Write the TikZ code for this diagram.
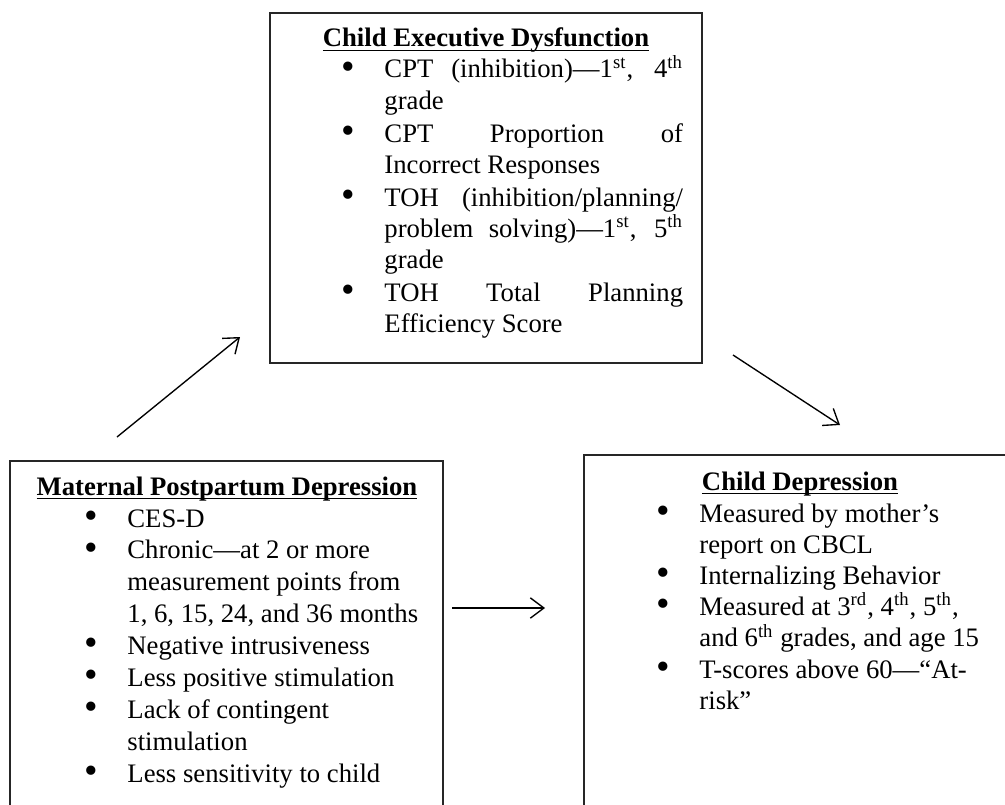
\documentclass[tikz,border=0pt]{standalone}
\usepackage{fontspec}
\setmainfont{Liberation Serif}
\usetikzlibrary{arrows.meta,fit}
\newcommand{\bl}{\makebox[19pt][l]{\raisebox{-0.5pt}{\scalebox{1.45}{\textbullet}}}}
\newcommand{\ind}{\hspace*{19pt}}
\newcommand{\sps}[1]{\textsuperscript{#1}}
\newcommand{\ulin}[1]{\underline{\smash{#1}}}
\begin{document}
\begin{tikzpicture}[x=0.442pt,y=-0.442pt,
  boxframe/.style={draw=black!85, line width=0.7pt, inner sep=0pt},
  txt/.style={anchor=base west, inner sep=0pt, font=\fontsize{11.8}{13.8}\selectfont},
  ttl/.style={anchor=base, inner sep=0pt, font=\fontsize{11.8}{13.8}\selectfont\bfseries},
  conn/.style={line width=0.6pt, -{Straight Barb[length=6pt,width=9pt,line width=0.6pt]}}]
\useasboundingbox (0,0) rectangle (1005,805);
% boxes
\coordinate (a1) at (270,13); \coordinate (a2) at (702,363);
\node[boxframe, fit=(a1)(a2)] (ced) {};
\coordinate (b1) at (10,461); \coordinate (b2) at (443,840);
\node[boxframe, fit=(b1)(b2)] (mpd) {};
\coordinate (c1) at (584,455); \coordinate (c2) at (1017,840);
\node[boxframe, fit=(c1)(c2)] (cd) {};
% titles
\node[ttl] (cedt) at (486,47) {\ulin{Child Executive Dysfunction}};
\node[ttl] (mpdt) at (227,495) {\ulin{Maternal Postpartum Depression}};
\node[ttl] (cdt) at (800,490) {\ulin{Child Depression}};
% top box list
\node[txt] (cedl) at (341,78) {\begin{minipage}[t]{153pt}\fontsize{11.8}{13.8}\selectfont
\bl\makebox[132pt][s]{CPT (inhibition)---1\sps{st}, 4\sps{th}}\\
\ind grade\\[0.8pt]
\bl\makebox[132pt][s]{CPT Proportion of}\\
\ind Incorrect Responses\\[0.6pt]
\bl\makebox[132pt][s]{TOH (inhibition/planning/}\\
\ind\makebox[132pt][s]{problem solving)---1\sps{st}, 5\sps{th}}\\
\ind grade\\[0.6pt]
\bl\makebox[132pt][s]{TOH Total Planning}\\
\ind Efficiency Score
\end{minipage}};
% left box list
\node[txt] (mpdl) at (84,527) {\begin{minipage}[t]{160pt}\fontsize{11.8}{14.1}\selectfont
\bl CES-D\\
\bl Chronic---at 2 or more\\
\ind measurement points from\\
\ind 1, 6, 15, 24, and 36 months\\
\bl Negative intrusiveness\\
\bl Less positive stimulation\\
\bl Lack of contingent\\
\ind stimulation\\
\bl Less sensitivity to child
\end{minipage}};
% right box list
\node[txt] (cdl) at (656,522) {\begin{minipage}[t]{160pt}\fontsize{11.8}{13.8}\selectfont
\bl Measured by mother's\\
\ind report on CBCL\\
\bl Internalizing Behavior\\
\bl Measured at 3\sps{rd}, 4\sps{th}, 5\sps{th},\\
\ind and 6\sps{th} grades, and age 15\\
\bl T-scores above 60---``At-\\
\ind risk''
\end{minipage}};
% connectors
\coordinate (p1) at (117,437); \coordinate (p2) at (240,337);
\coordinate (q1) at (733,355); \coordinate (q2) at (840,425);
\coordinate (r1) at (452,608); \coordinate (r2) at (545,608);
\draw[conn] (p1) -- (p2);
\draw[conn] (q1) -- (q2);
\draw[conn] (r1) -- (r2);
\end{tikzpicture}
\end{document}
